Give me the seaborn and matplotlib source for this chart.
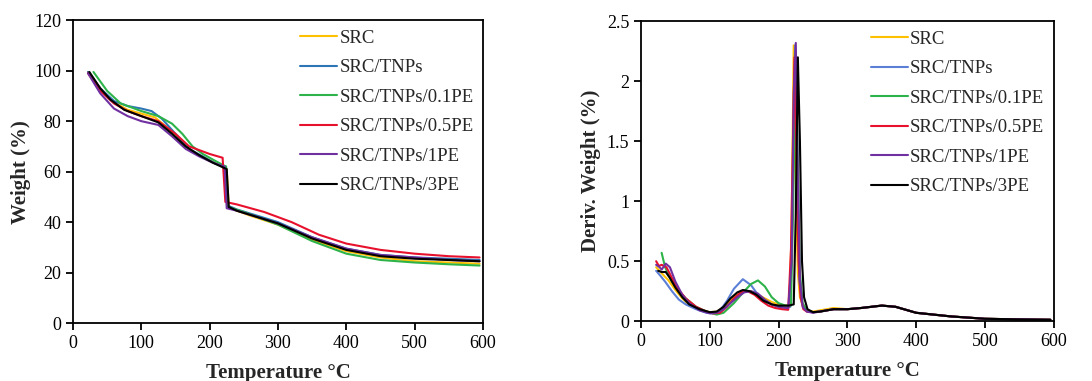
import pandas as pd
import matplotlib
matplotlib.use("Agg")
import matplotlib.pyplot as plt
import seaborn as sns
from matplotlib.ticker import FuncFormatter

# -------------------------
# series names / colours
# -------------------------
names = ["SRC", "SRC/TNPs", "SRC/TNPs/0.1PE", "SRC/TNPs/0.5PE", "SRC/TNPs/1PE", "SRC/TNPs/3PE"]
colors_tga = ["#FFC000", "#2E75B6", "#2DB34A", "#E8112D", "#7030A0", "#000000"]
colors_dtg = ["#FFC000", "#5B7FD6", "#2DB34A", "#E8112D", "#7030A0", "#000000"]

# -------------------------
# TGA: weight (%) vs temperature
# -------------------------
tga_T_src = [22, 40, 60, 80, 100, 120, 140, 160, 180, 200, 220, 225, 228, 240, 260, 300, 350, 400, 450, 500, 550, 595]
tga_W_src = [99.5, 93, 87.5, 84.5, 83, 81.5, 77, 71, 67, 64.5, 62, 61, 46, 44.5, 42.5, 39, 33, 28.5, 26, 24.5, 24, 23.5]

tga_T_tnp = [22, 40, 60, 80, 100, 115, 130, 150, 170, 190, 210, 224, 227, 240, 300, 350, 400, 450, 500, 550, 595]
tga_W_tnp = [99.5, 93, 88, 86, 85, 84, 81, 75, 69, 66, 63, 62, 46.5, 45, 40, 34, 29.5, 27, 26, 25.5, 25]

tga_T_01 = [30, 50, 70, 100, 125, 145, 160, 175, 190, 210, 224, 227, 250, 300, 350, 400, 450, 500, 550, 595]
tga_W_01 = [99.5, 92, 87, 84, 82, 79, 75, 70, 67, 64, 62, 46, 44, 39, 32.5, 27.5, 25, 24, 23.3, 22.8]

tga_T_05 = [22, 40, 60, 80, 100, 125, 150, 170, 185, 200, 219, 223, 240, 280, 320, 360, 400, 450, 500, 550, 595]
tga_W_05 = [99, 92, 87, 84, 82, 80, 75, 70, 68.5, 67, 65.5, 48, 47, 44, 40, 35, 31.5, 29, 27.5, 26.5, 26]

tga_T_1 = [22, 40, 60, 80, 100, 125, 145, 165, 185, 205, 222, 225, 240, 300, 350, 400, 450, 500, 550, 595]
tga_W_1 = [99, 91, 85, 82, 80, 78.5, 74, 69, 66, 63.5, 62, 45.5, 44.5, 39.5, 34, 29.5, 27, 26, 25, 24.5]

tga_T_3 = [24, 40, 55, 75, 100, 125, 145, 165, 185, 205, 225, 228, 240, 300, 350, 400, 450, 500, 550, 595]
tga_W_3 = [99.5, 93, 88.5, 84.5, 82, 79.5, 75, 70, 66.5, 63.5, 61, 46, 44.5, 39.5, 33.5, 29, 26.5, 25.5, 25, 24.5]

# -------------------------
# DTG: deriv. weight (%) vs temperature
# -------------------------
dtg_T_src = [22, 30, 40, 50, 60, 70, 80, 90, 100, 110, 120, 130, 140, 150, 160, 170, 180, 190, 200, 210, 216, 219, 222, 225, 228, 231, 236, 241, 250, 260, 280, 300, 320, 350, 370, 400, 450, 500, 550, 595]
dtg_D_src = [0.45, 0.40, 0.34, 0.26, 0.19, 0.14, 0.11, 0.09, 0.075, 0.08, 0.11, 0.17, 0.22, 0.25, 0.25, 0.22, 0.19, 0.16, 0.14, 0.13, 0.13, 0.8, 2.3, 1.2, 0.4, 0.2, 0.12, 0.09, 0.08, 0.09, 0.11, 0.1, 0.11, 0.13, 0.12, 0.07, 0.04, 0.02, 0.015, 0.012]

dtg_T_tnp = [22, 28, 35, 45, 55, 65, 80, 95, 105, 115, 125, 135, 148, 160, 170, 180, 190, 200, 210, 217, 220, 224, 227, 230, 234, 241, 250, 260, 280, 300, 320, 350, 370, 400, 450, 500, 550, 595]
dtg_D_tnp = [0.42, 0.38, 0.33, 0.25, 0.18, 0.14, 0.10, 0.07, 0.065, 0.09, 0.17, 0.27, 0.35, 0.30, 0.22, 0.17, 0.14, 0.12, 0.11, 0.12, 0.9, 2.3, 1.3, 0.35, 0.15, 0.09, 0.075, 0.08, 0.1, 0.1, 0.11, 0.13, 0.12, 0.07, 0.04, 0.02, 0.015, 0.012]

dtg_T_01 = [30, 35, 45, 55, 65, 80, 95, 110, 120, 135, 150, 160, 170, 180, 190, 200, 210, 218, 221, 225, 228, 231, 235, 241, 250, 260, 280, 300, 320, 350, 370, 400, 450, 500, 550, 595]
dtg_D_01 = [0.57, 0.45, 0.33, 0.25, 0.19, 0.12, 0.08, 0.055, 0.07, 0.15, 0.25, 0.31, 0.34, 0.29, 0.20, 0.15, 0.13, 0.13, 0.9, 2.25, 1.3, 0.4, 0.15, 0.09, 0.075, 0.08, 0.1, 0.1, 0.11, 0.13, 0.12, 0.07, 0.04, 0.02, 0.015, 0.012]

dtg_T_05 = [22, 26, 30, 37, 45, 55, 65, 80, 95, 105, 115, 125, 135, 145, 155, 165, 175, 185, 195, 205, 214, 218, 223, 226, 229, 232, 236, 241, 250, 260, 280, 300, 320, 350, 370, 400, 450, 500, 550, 595]
dtg_D_05 = [0.50, 0.46, 0.47, 0.45, 0.36, 0.26, 0.19, 0.12, 0.08, 0.065, 0.07, 0.12, 0.19, 0.24, 0.25, 0.22, 0.17, 0.13, 0.11, 0.10, 0.095, 0.6, 2.2, 1.4, 0.5, 0.2, 0.1, 0.08, 0.075, 0.08, 0.1, 0.1, 0.11, 0.13, 0.12, 0.07, 0.04, 0.02, 0.015, 0.012]

dtg_T_1 = [22, 27, 30, 36, 42, 50, 60, 70, 85, 100, 110, 120, 130, 140, 150, 160, 170, 180, 190, 200, 214, 219, 222, 225, 228, 231, 235, 241, 250, 260, 280, 300, 320, 350, 370, 400, 450, 500, 550, 595]
dtg_D_1 = [0.47, 0.45, 0.43, 0.48, 0.45, 0.33, 0.22, 0.15, 0.09, 0.065, 0.07, 0.10, 0.15, 0.20, 0.24, 0.25, 0.23, 0.18, 0.14, 0.12, 0.11, 0.5, 1.9, 2.32, 1.2, 0.35, 0.12, 0.08, 0.07, 0.08, 0.1, 0.1, 0.11, 0.13, 0.12, 0.07, 0.04, 0.02, 0.015, 0.012]

dtg_T_3 = [25, 30, 36, 42, 50, 60, 70, 85, 100, 110, 120, 130, 140, 148, 158, 168, 178, 190, 200, 215, 222, 225, 228, 231, 234, 237, 242, 250, 260, 280, 300, 320, 350, 370, 400, 450, 500, 550, 595]
dtg_D_3 = [0.42, 0.41, 0.41, 0.36, 0.28, 0.20, 0.14, 0.10, 0.075, 0.08, 0.12, 0.19, 0.24, 0.26, 0.25, 0.22, 0.17, 0.14, 0.13, 0.13, 0.14, 0.9, 2.2, 1.5, 0.5, 0.2, 0.1, 0.075, 0.08, 0.1, 0.1, 0.11, 0.13, 0.12, 0.07, 0.04, 0.02, 0.015, 0.012]

tga_T = [tga_T_src, tga_T_tnp, tga_T_01, tga_T_05, tga_T_1, tga_T_3]
tga_W = [tga_W_src, tga_W_tnp, tga_W_01, tga_W_05, tga_W_1, tga_W_3]
dtg_T = [dtg_T_src, dtg_T_tnp, dtg_T_01, dtg_T_05, dtg_T_1, dtg_T_3]
dtg_D = [dtg_D_src, dtg_D_tnp, dtg_D_01, dtg_D_05, dtg_D_1, dtg_D_3]


def long_df(names, xs, ys):
    rows = []
    for n, x, y in zip(names, xs, ys):
        for a, b in zip(x, y):
            rows.append({"sample": n, "T": a, "v": b})
    return pd.DataFrame(rows)


tga_df = long_df(names, tga_T, tga_W)
dtg_df = long_df(names, dtg_T, dtg_D)

# -------------------------
# style
# -------------------------
sns.set_style("ticks")
plt.rcParams["font.family"] = ["Liberation Serif", "DejaVu Serif"]
plt.rcParams["axes.linewidth"] = 1.3
plt.rcParams["xtick.major.width"] = 1.3
plt.rcParams["ytick.major.width"] = 1.3
plt.rcParams["axes.edgecolor"] = "black"

fig = plt.figure(figsize=(10.92, 3.81), dpi=100)
ax1 = fig.add_axes([0.0668, 0.152, 0.3755, 0.795])
ax2 = fig.add_axes([0.587, 0.157, 0.378, 0.787])

sns.lineplot(data=tga_df, x="T", y="v", hue="sample", hue_order=names,
             palette=dict(zip(names, colors_tga)), sort=False, estimator=None,
             linewidth=1.5, ax=ax1)
sns.lineplot(data=dtg_df, x="T", y="v", hue="sample", hue_order=names,
             palette=dict(zip(names, colors_dtg)), sort=False, estimator=None,
             linewidth=1.5, ax=ax2)

ax1.set_xlim(0, 600)
ax1.set_ylim(0, 120)
ax1.set_xticks(range(0, 601, 100))
ax1.set_yticks(range(0, 121, 20))
ax1.set_ylabel("Weight (%)", fontsize=15, fontweight="bold", labelpad=2)

ax2.set_xlim(0, 600)
ax2.set_ylim(0, 2.5)
ax2.set_xticks(range(0, 601, 100))
ax2.set_yticks([0, 0.5, 1, 1.5, 2, 2.5])
ax2.yaxis.set_major_formatter(FuncFormatter(lambda v, p: f"{v:g}"))
ax2.set_ylabel("Deriv. Weight (%)", fontsize=15, fontweight="bold", labelpad=4)

for ax in (ax1, ax2):
    ax.set_xlabel("Temperature \u00b0C", fontsize=15, fontweight="bold", labelpad=8)
    ax.tick_params(labelsize=13, length=5, direction="out", colors="black")
    for s in ax.spines.values():
        s.set_visible(True)
        s.set_color("black")
    sns.move_legend(ax, "upper right", bbox_to_anchor=(1.0, 1.0), frameon=False,
                    title=None, fontsize=13.5, handlelength=2.0, handletextpad=0.1,
                    labelspacing=0.66, borderaxespad=0.1)

fig.savefig("out.png", dpi=100)
